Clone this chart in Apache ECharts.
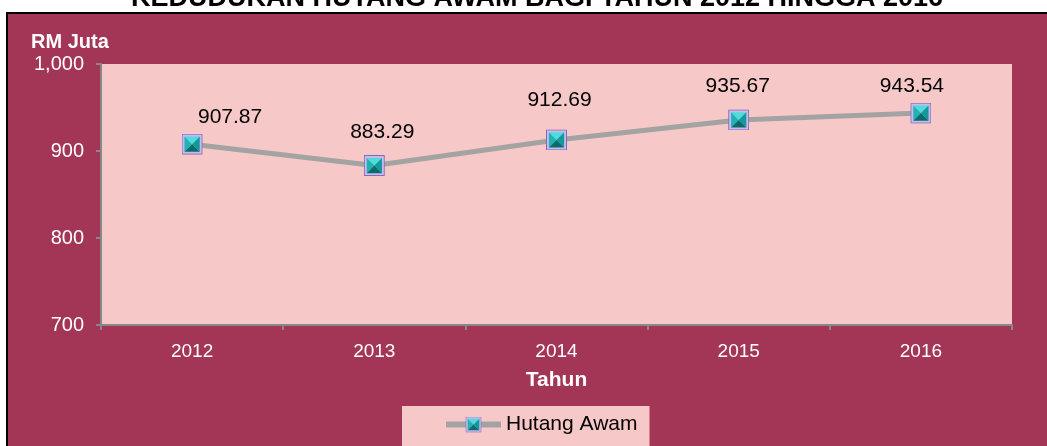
<!DOCTYPE html>
<html><head><meta charset="utf-8">
<script src="https://cdn.jsdelivr.net/npm/echarts@6/dist/echarts.min.js"></script>
<style>html,body{margin:0;padding:0;background:#fff}#c{width:1047px;height:446px}</style>
</head><body><div id="c"></div>
<script>
const categories = ['2012', '2013', '2014', '2015', '2016'];
const hutangAwam = [907.87, 883.29, 912.69, 935.67, 943.54];
const yTicks = [700, 800, 900, 1000];
const seriesName = 'Hutang Awam';
const chartTitle = 'KEDUDUKAN HUTANG AWAM BAGI TAHUN 2012 HINGGA 2016';
// label nudges (style only), in px relative to the marker centre
const labelOffsets = [[38, -27], [8, -33], [3, -40], [-1, -34], [-9, -27]];

const svg = "<svg xmlns='http://www.w3.org/2000/svg' width='22' height='22'>" +
  "<rect x='0.5' y='0.5' width='21' height='21' fill='#C9B8F2' stroke='#7A6AAE'/>" +
  "<polygon points='3,3 19,3 11,11' fill='#4FDCDC'/>" +
  "<polygon points='3,3 11,11 3,19' fill='#1FB4B4'/>" +
  "<polygon points='19,3 19,19 11,11' fill='#129A9A'/>" +
  "<polygon points='3,19 19,19 11,11' fill='#0A6B6B'/></svg>";
const sym = 'image://data:image/svg+xml;charset=utf-8,' + encodeURIComponent(svg);

const seriesData = hutangAwam.map((v, i) => ({value: v, label: {offset: labelOffsets[i]}}));

const chart = echarts.init(document.getElementById('c'), null, {renderer: 'canvas'});
chart.setOption({
  animation: false,
  backgroundColor: '#ffffff',
  graphic: [
    {type: 'rect', z: -10, shape: {x: 7, y: 13, width: 1050, height: 450},
     style: {fill: '#A33556', stroke: '#000', lineWidth: 2}},
    {type: 'text', z: 10, x: 537, y: -15,
     style: {text: chartTitle, fill: '#000', font: 'bold 27px "Liberation Sans", Arial', textAlign: 'center', textVerticalAlign: 'top'}}
  ],
  grid: {left: 101, right: 35, top: 64, bottom: 121, show: true, backgroundColor: '#F7C8C8', borderWidth: 0},
  xAxis: {
    type: 'category', data: categories, boundaryGap: true,
    name: 'Tahun', nameLocation: 'middle', nameGap: 45,
    nameTextStyle: {color: '#fff', fontWeight: 'bold', fontSize: 21, fontFamily: 'Liberation Sans'},
    axisLine: {lineStyle: {color: '#888', width: 2}},
    axisTick: {show: true, length: 5, lineStyle: {color: '#888', width: 2}, alignWithLabel: false},
    axisLabel: {color: '#fff', fontSize: 19, fontFamily: 'Liberation Sans', margin: 17}
  },
  yAxis: {
    type: 'value', min: 700, max: 1000, interval: 100,
    name: 'RM Juta', nameLocation: 'end', nameGap: 12,
    nameTextStyle: {color: '#fff', fontWeight: 'bold', fontSize: 20, fontFamily: 'Liberation Sans', align: 'left', padding: [0, 0, 0, -70]},
    axisLine: {show: true, lineStyle: {color: '#888', width: 2}},
    axisTick: {show: true, length: 5, lineStyle: {color: '#888', width: 2}},
    splitLine: {show: false},
    axisLabel: {color: '#fff', fontSize: 20, fontFamily: 'Liberation Sans', margin: 17,
      formatter: v => yTicks.includes(v) ? v.toLocaleString('en-US') : ''}
  },
  legend: {
    top: 406, left: 402,
    backgroundColor: '#F7C8C8', padding: [8, 12, 30, 41],
    itemWidth: 55, itemHeight: 20, itemGap: 0,
    lineStyle: {width: 6, color: '#A3A3A3'},
    textStyle: {color: '#000', fontSize: 21, fontFamily: 'Liberation Sans'},
    data: [seriesName]
  },
  series: [{
    name: seriesName, type: 'line', data: seriesData,
    symbol: sym, symbolSize: 21,
    lineStyle: {color: '#A3A3A3', width: 5},
    itemStyle: {color: '#A3A3A3'},
    label: {show: true, position: 'inside', color: '#000', fontSize: 21, fontFamily: 'Liberation Sans',
      formatter: p => p.value.toFixed(2)}
  }]
});
</script></body></html>
